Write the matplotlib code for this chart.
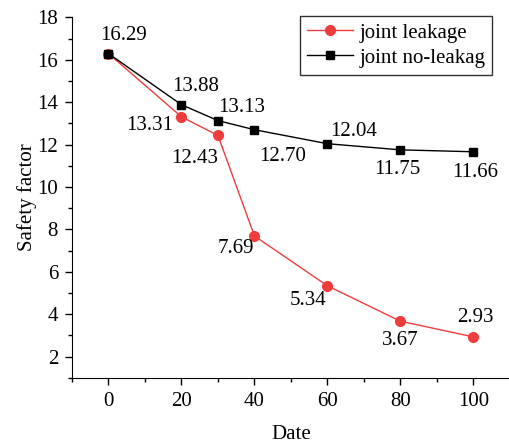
import numpy as np
import matplotlib.pyplot as plt

plt.rcParams['font.family'] = ['Liberation Serif', 'DejaVu Serif']
plt.rcParams['mathtext.fontset'] = 'stix'

# data
days = [0, 20, 30, 40, 60, 80, 100]
leak = [16.29, 13.31, 12.43, 7.69, 5.34, 3.67, 2.93]
noleak = [16.29, 13.88, 13.13, 12.70, 12.04, 11.75, 11.66]

# label offsets in pixels (dx, dy)
leak_off = [(0, 0), (-32, -9), (-23, -23), (-19, -13), (-19, -15), (0, -19), (2, 19)]
noleak_off = [(15, 18), (14, 18), (24, 13), (28, -27), (26, 12), (-3, -20), (2, -21)]

fig = plt.figure(figsize=(5.1, 4.44), dpi=100)
ax = fig.add_axes([0.141, 0.149, 0.859, 0.812])

ax.plot(days, leak, color='#f03c3c', marker='o', markersize=7, lw=1,
        label='joint leakage', zorder=2)
ax.plot(days, noleak, color='black', marker='s', markersize=6, lw=1,
        label='joint no-leakag', zorder=3)

for i, (x, y) in enumerate(zip(days, leak)):
    if i == 0:
        continue
    dx, dy = leak_off[i]
    ax.annotate('%.2f' % y, (x, y), xytext=(dx, dy), textcoords='offset pixels',
                ha='center', va='center', fontsize=15)
for i, (x, y) in enumerate(zip(days, noleak)):
    dx, dy = noleak_off[i]
    ax.annotate('%.2f' % y, (x, y), xytext=(dx, dy), textcoords='offset pixels',
                ha='center', va='center', fontsize=15)

ax.set_xlim(-10, 110)
ax.set_ylim(1, 18)
ax.set_xticks([0, 20, 40, 60, 80, 100])
ax.set_xticks(np.arange(-10, 111, 20), minor=True)
ax.set_yticks(np.arange(2, 19, 2))
ax.set_yticks(np.arange(1, 18, 2), minor=True)
ax.tick_params(direction='out', labelsize=15, length=5, width=1, pad=5)
ax.tick_params(which='minor', direction='out', length=3, width=1)

for s in ['top', 'right']:
    ax.spines[s].set_visible(False)

ax.set_xlabel('Date', fontsize=15, labelpad=10)
ax.set_ylabel('Safety factor', fontsize=15, labelpad=0)

leg = ax.legend(loc='upper right', bbox_to_anchor=(0.96, 1.004), fontsize=15,
                frameon=True, fancybox=False, edgecolor='black',
                borderpad=0.35, handlelength=2.2, handletextpad=0.3,
                labelspacing=0.25, borderaxespad=0)
leg.get_frame().set_linewidth(1)

fig.savefig('out.png', dpi=100)
